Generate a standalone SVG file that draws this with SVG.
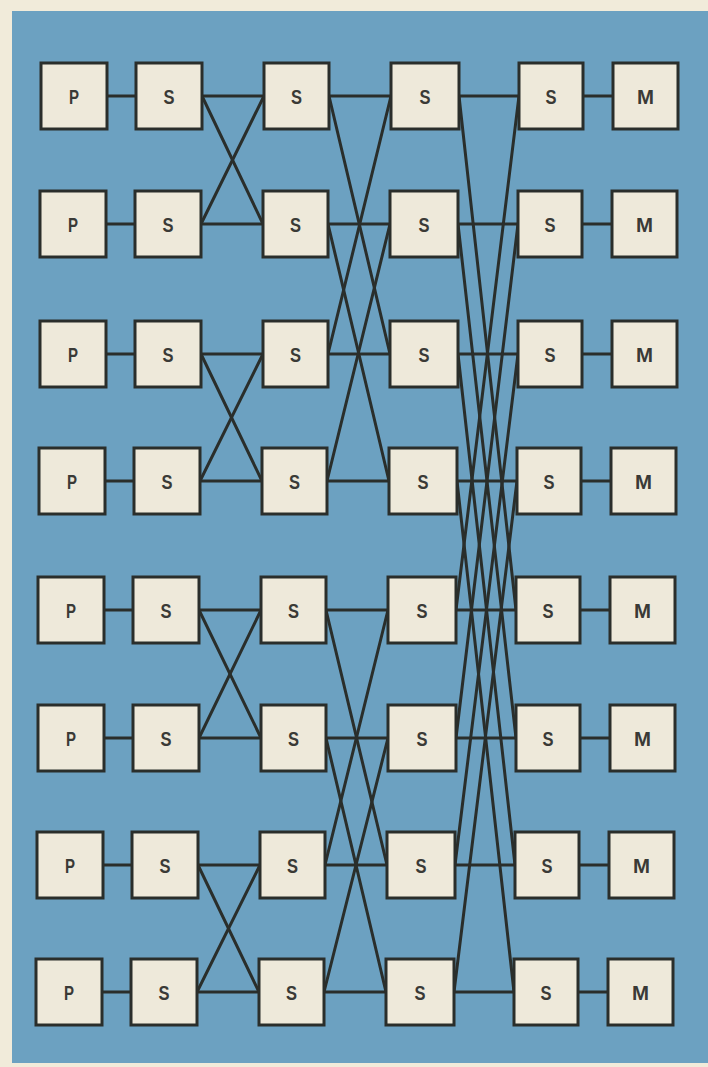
<svg xmlns="http://www.w3.org/2000/svg" width="708" height="1067" viewBox="0 0 708 1067">
<style>
.bx{fill:#eee9da;stroke:#2a2e2b;stroke-width:3}
.t{font-family:"Liberation Sans",Arial,sans-serif;font-weight:bold;font-size:21px;fill:#3a3a36;text-anchor:middle}
.c line{stroke:#2a2e2b;stroke-width:3;stroke-linecap:round}
</style>
<rect x="0" y="0" width="708" height="1067" fill="#f1ebda"/>
<rect x="12" y="11" width="700" height="1052" fill="#6ca1c1"/>
<g id="connectors" class="c">
<line x1="107" y1="96" x2="136" y2="96"/><line x1="106" y1="224" x2="135" y2="224"/><line x1="106" y1="354" x2="135" y2="354"/><line x1="105" y1="481" x2="134" y2="481"/><line x1="104" y1="610" x2="133" y2="610"/><line x1="104" y1="738" x2="133" y2="738"/><line x1="103" y1="865" x2="132" y2="865"/><line x1="102" y1="992" x2="131" y2="992"/>
<line x1="202" y1="96" x2="264" y2="96"/><line x1="201" y1="224" x2="263" y2="224"/><line x1="201" y1="354" x2="263" y2="354"/><line x1="200" y1="481" x2="262" y2="481"/><line x1="199" y1="610" x2="261" y2="610"/><line x1="199" y1="738" x2="261" y2="738"/><line x1="198" y1="865" x2="260" y2="865"/><line x1="197" y1="992" x2="259" y2="992"/>
<line x1="202" y1="96" x2="263" y2="224"/><line x1="201" y1="224" x2="264" y2="96"/><line x1="201" y1="354" x2="262" y2="481"/><line x1="200" y1="481" x2="263" y2="354"/><line x1="199" y1="610" x2="261" y2="738"/><line x1="199" y1="738" x2="261" y2="610"/><line x1="198" y1="865" x2="259" y2="992"/><line x1="197" y1="992" x2="260" y2="865"/>
<line x1="329" y1="96" x2="391" y2="96"/><line x1="328" y1="224" x2="390" y2="224"/><line x1="328" y1="354" x2="390" y2="354"/><line x1="327" y1="481" x2="389" y2="481"/><line x1="326" y1="610" x2="388" y2="610"/><line x1="326" y1="738" x2="388" y2="738"/><line x1="325" y1="865" x2="387" y2="865"/><line x1="324" y1="992" x2="386" y2="992"/>
<line x1="329" y1="96" x2="390" y2="354"/><line x1="328" y1="354" x2="391" y2="96"/><line x1="328" y1="224" x2="389" y2="481"/><line x1="327" y1="481" x2="390" y2="224"/><line x1="326" y1="610" x2="387" y2="865"/><line x1="325" y1="865" x2="388" y2="610"/><line x1="326" y1="738" x2="386" y2="992"/><line x1="324" y1="992" x2="388" y2="738"/>
<line x1="459" y1="96" x2="519" y2="96"/><line x1="458" y1="224" x2="518" y2="224"/><line x1="458" y1="354" x2="518" y2="354"/><line x1="457" y1="481" x2="517" y2="481"/><line x1="456" y1="610" x2="516" y2="610"/><line x1="456" y1="738" x2="516" y2="738"/><line x1="455" y1="865" x2="515" y2="865"/><line x1="454" y1="992" x2="514" y2="992"/>
<line x1="459" y1="96" x2="516" y2="610"/><line x1="456" y1="610" x2="519" y2="96"/><line x1="458" y1="224" x2="516" y2="738"/><line x1="456" y1="738" x2="518" y2="224"/><line x1="458" y1="354" x2="515" y2="865"/><line x1="455" y1="865" x2="518" y2="354"/><line x1="457" y1="481" x2="514" y2="992"/><line x1="454" y1="992" x2="517" y2="481"/>
<line x1="583" y1="96" x2="613" y2="96"/><line x1="582" y1="224" x2="612" y2="224"/><line x1="582" y1="354" x2="612" y2="354"/><line x1="581" y1="481" x2="611" y2="481"/><line x1="580" y1="610" x2="610" y2="610"/><line x1="580" y1="738" x2="610" y2="738"/><line x1="579" y1="865" x2="609" y2="865"/><line x1="578" y1="992" x2="608" y2="992"/>
</g>
<g id="p0"><rect class="bx" x="41" y="63" width="66" height="66"/><text class="t" x="74" y="104" textLength="10" lengthAdjust="spacingAndGlyphs">P</text></g>
<g id="p1"><rect class="bx" x="40" y="191" width="66" height="66"/><text class="t" x="73" y="232" textLength="10" lengthAdjust="spacingAndGlyphs">P</text></g>
<g id="p2"><rect class="bx" x="40" y="321" width="66" height="66"/><text class="t" x="73" y="362" textLength="10" lengthAdjust="spacingAndGlyphs">P</text></g>
<g id="p3"><rect class="bx" x="39" y="448" width="66" height="66"/><text class="t" x="72" y="489" textLength="10" lengthAdjust="spacingAndGlyphs">P</text></g>
<g id="p4"><rect class="bx" x="38" y="577" width="66" height="66"/><text class="t" x="71" y="618" textLength="10" lengthAdjust="spacingAndGlyphs">P</text></g>
<g id="p5"><rect class="bx" x="38" y="705" width="66" height="66"/><text class="t" x="71" y="746" textLength="10" lengthAdjust="spacingAndGlyphs">P</text></g>
<g id="p6"><rect class="bx" x="37" y="832" width="66" height="66"/><text class="t" x="70" y="873" textLength="10" lengthAdjust="spacingAndGlyphs">P</text></g>
<g id="p7"><rect class="bx" x="36" y="959" width="66" height="66"/><text class="t" x="69" y="1000" textLength="10" lengthAdjust="spacingAndGlyphs">P</text></g>
<g id="a0"><rect class="bx" x="136" y="63" width="66" height="66"/><text class="t" x="169" y="104" textLength="11" lengthAdjust="spacingAndGlyphs">S</text></g>
<g id="a1"><rect class="bx" x="135" y="191" width="66" height="66"/><text class="t" x="168" y="232" textLength="11" lengthAdjust="spacingAndGlyphs">S</text></g>
<g id="a2"><rect class="bx" x="135" y="321" width="66" height="66"/><text class="t" x="168" y="362" textLength="11" lengthAdjust="spacingAndGlyphs">S</text></g>
<g id="a3"><rect class="bx" x="134" y="448" width="66" height="66"/><text class="t" x="167" y="489" textLength="11" lengthAdjust="spacingAndGlyphs">S</text></g>
<g id="a4"><rect class="bx" x="133" y="577" width="66" height="66"/><text class="t" x="166" y="618" textLength="11" lengthAdjust="spacingAndGlyphs">S</text></g>
<g id="a5"><rect class="bx" x="133" y="705" width="66" height="66"/><text class="t" x="166" y="746" textLength="11" lengthAdjust="spacingAndGlyphs">S</text></g>
<g id="a6"><rect class="bx" x="132" y="832" width="66" height="66"/><text class="t" x="165" y="873" textLength="11" lengthAdjust="spacingAndGlyphs">S</text></g>
<g id="a7"><rect class="bx" x="131" y="959" width="66" height="66"/><text class="t" x="164" y="1000" textLength="11" lengthAdjust="spacingAndGlyphs">S</text></g>
<g id="b0"><rect class="bx" x="264" y="63" width="65" height="66"/><text class="t" x="296.5" y="104" textLength="11" lengthAdjust="spacingAndGlyphs">S</text></g>
<g id="b1"><rect class="bx" x="263" y="191" width="65" height="66"/><text class="t" x="295.5" y="232" textLength="11" lengthAdjust="spacingAndGlyphs">S</text></g>
<g id="b2"><rect class="bx" x="263" y="321" width="65" height="66"/><text class="t" x="295.5" y="362" textLength="11" lengthAdjust="spacingAndGlyphs">S</text></g>
<g id="b3"><rect class="bx" x="262" y="448" width="65" height="66"/><text class="t" x="294.5" y="489" textLength="11" lengthAdjust="spacingAndGlyphs">S</text></g>
<g id="b4"><rect class="bx" x="261" y="577" width="65" height="66"/><text class="t" x="293.5" y="618" textLength="11" lengthAdjust="spacingAndGlyphs">S</text></g>
<g id="b5"><rect class="bx" x="261" y="705" width="65" height="66"/><text class="t" x="293.5" y="746" textLength="11" lengthAdjust="spacingAndGlyphs">S</text></g>
<g id="b6"><rect class="bx" x="260" y="832" width="65" height="66"/><text class="t" x="292.5" y="873" textLength="11" lengthAdjust="spacingAndGlyphs">S</text></g>
<g id="b7"><rect class="bx" x="259" y="959" width="65" height="66"/><text class="t" x="291.5" y="1000" textLength="11" lengthAdjust="spacingAndGlyphs">S</text></g>
<g id="c0"><rect class="bx" x="391" y="63" width="68" height="66"/><text class="t" x="425" y="104" textLength="11" lengthAdjust="spacingAndGlyphs">S</text></g>
<g id="c1"><rect class="bx" x="390" y="191" width="68" height="66"/><text class="t" x="424" y="232" textLength="11" lengthAdjust="spacingAndGlyphs">S</text></g>
<g id="c2"><rect class="bx" x="390" y="321" width="68" height="66"/><text class="t" x="424" y="362" textLength="11" lengthAdjust="spacingAndGlyphs">S</text></g>
<g id="c3"><rect class="bx" x="389" y="448" width="68" height="66"/><text class="t" x="423" y="489" textLength="11" lengthAdjust="spacingAndGlyphs">S</text></g>
<g id="c4"><rect class="bx" x="388" y="577" width="68" height="66"/><text class="t" x="422" y="618" textLength="11" lengthAdjust="spacingAndGlyphs">S</text></g>
<g id="c5"><rect class="bx" x="388" y="705" width="68" height="66"/><text class="t" x="422" y="746" textLength="11" lengthAdjust="spacingAndGlyphs">S</text></g>
<g id="c6"><rect class="bx" x="387" y="832" width="68" height="66"/><text class="t" x="421" y="873" textLength="11" lengthAdjust="spacingAndGlyphs">S</text></g>
<g id="c7"><rect class="bx" x="386" y="959" width="68" height="66"/><text class="t" x="420" y="1000" textLength="11" lengthAdjust="spacingAndGlyphs">S</text></g>
<g id="d0"><rect class="bx" x="519" y="63" width="64" height="66"/><text class="t" x="551" y="104" textLength="11" lengthAdjust="spacingAndGlyphs">S</text></g>
<g id="d1"><rect class="bx" x="518" y="191" width="64" height="66"/><text class="t" x="550" y="232" textLength="11" lengthAdjust="spacingAndGlyphs">S</text></g>
<g id="d2"><rect class="bx" x="518" y="321" width="64" height="66"/><text class="t" x="550" y="362" textLength="11" lengthAdjust="spacingAndGlyphs">S</text></g>
<g id="d3"><rect class="bx" x="517" y="448" width="64" height="66"/><text class="t" x="549" y="489" textLength="11" lengthAdjust="spacingAndGlyphs">S</text></g>
<g id="d4"><rect class="bx" x="516" y="577" width="64" height="66"/><text class="t" x="548" y="618" textLength="11" lengthAdjust="spacingAndGlyphs">S</text></g>
<g id="d5"><rect class="bx" x="516" y="705" width="64" height="66"/><text class="t" x="548" y="746" textLength="11" lengthAdjust="spacingAndGlyphs">S</text></g>
<g id="d6"><rect class="bx" x="515" y="832" width="64" height="66"/><text class="t" x="547" y="873" textLength="11" lengthAdjust="spacingAndGlyphs">S</text></g>
<g id="d7"><rect class="bx" x="514" y="959" width="64" height="66"/><text class="t" x="546" y="1000" textLength="11" lengthAdjust="spacingAndGlyphs">S</text></g>
<g id="m0"><rect class="bx" x="613" y="63" width="65" height="66"/><text class="t" x="645.5" y="104" textLength="17" lengthAdjust="spacingAndGlyphs">M</text></g>
<g id="m1"><rect class="bx" x="612" y="191" width="65" height="66"/><text class="t" x="644.5" y="232" textLength="17" lengthAdjust="spacingAndGlyphs">M</text></g>
<g id="m2"><rect class="bx" x="612" y="321" width="65" height="66"/><text class="t" x="644.5" y="362" textLength="17" lengthAdjust="spacingAndGlyphs">M</text></g>
<g id="m3"><rect class="bx" x="611" y="448" width="65" height="66"/><text class="t" x="643.5" y="489" textLength="17" lengthAdjust="spacingAndGlyphs">M</text></g>
<g id="m4"><rect class="bx" x="610" y="577" width="65" height="66"/><text class="t" x="642.5" y="618" textLength="17" lengthAdjust="spacingAndGlyphs">M</text></g>
<g id="m5"><rect class="bx" x="610" y="705" width="65" height="66"/><text class="t" x="642.5" y="746" textLength="17" lengthAdjust="spacingAndGlyphs">M</text></g>
<g id="m6"><rect class="bx" x="609" y="832" width="65" height="66"/><text class="t" x="641.5" y="873" textLength="17" lengthAdjust="spacingAndGlyphs">M</text></g>
<g id="m7"><rect class="bx" x="608" y="959" width="65" height="66"/><text class="t" x="640.5" y="1000" textLength="17" lengthAdjust="spacingAndGlyphs">M</text></g>
</svg>
